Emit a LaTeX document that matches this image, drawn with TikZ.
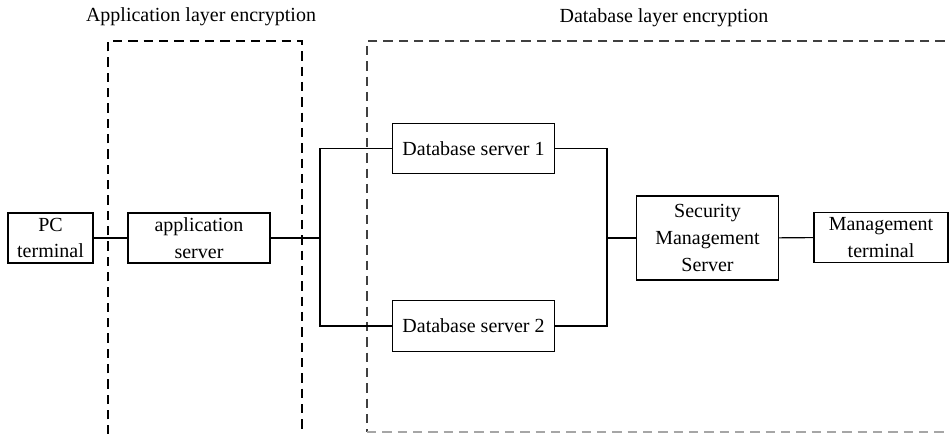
\documentclass[tikz,border=0pt]{standalone}
\usepackage{fontspec}
\setmainfont{Liberation Serif}

\tikzset{
    unit box/.style={
        draw,line width=.8pt,
        align=center,inner sep=0pt,
        minimum height=37.5pt,
        font=\fontsize{15}{20}\selectfont
    },
    layer/.style={line width=.8pt,dash pattern=on 7pt off 4.5pt},
    link/.style={line width=.8pt}
}

\begin{document}
\begin{tikzpicture}[x=.75pt,y=-.75pt]
        \clip (0,0) rectangle (949,434);
        % encryption layers
        \draw[layer] (108,450) -- (108,41) -- (302,41) -- (302,450);
        \draw[layer,black!75] (960,41) -- (367,41) -- (367,432);
        \draw[layer,black!35] (367,432) -- (960,432);
        \node[font=\fontsize{15}{20}\selectfont,anchor=base] (applabel) at (201,22) {Application layer encryption};
        \node[font=\fontsize{15}{20}\selectfont,anchor=base] (dblabel) at (664,23) {Database layer encryption};
        % boxes
        \node[unit box,minimum width=63.75pt] (pc) at (50.5,238) {PC\\terminal};
        \node[unit box,minimum width=106.5pt] (app) at (199,238) {application\\server};
        \node[unit box,minimum width=122pt,minimum height=38pt] (db1) at (473.5,148.5) {Database server 1};
        \node[unit box,minimum width=122pt,minimum height=38pt] (db2) at (473.5,326) {Database server 2};
        \node[unit box,minimum width=106pt,minimum height=63pt] (sms) at (707.5,238) {Security\\Management\\Server};
        \node[unit box,minimum width=100.5pt] (mt) at (881,237.5) {Management\\terminal};
        % connections
        \coordinate (splitL) at (320,238);
        \coordinate (joinR) at (607,238);
        \draw[link] (pc) -- (app);
        \draw[link] (app) -- (splitL);
        \draw[link] (db1.west) -| (splitL) |- (db2.west);
        \draw[link] (db1.east) -| (joinR) |- (db2.east);
        \draw[link] (joinR) -- (sms);
        \draw[link] (sms) -- (mt);
\end{tikzpicture}
\end{document}
